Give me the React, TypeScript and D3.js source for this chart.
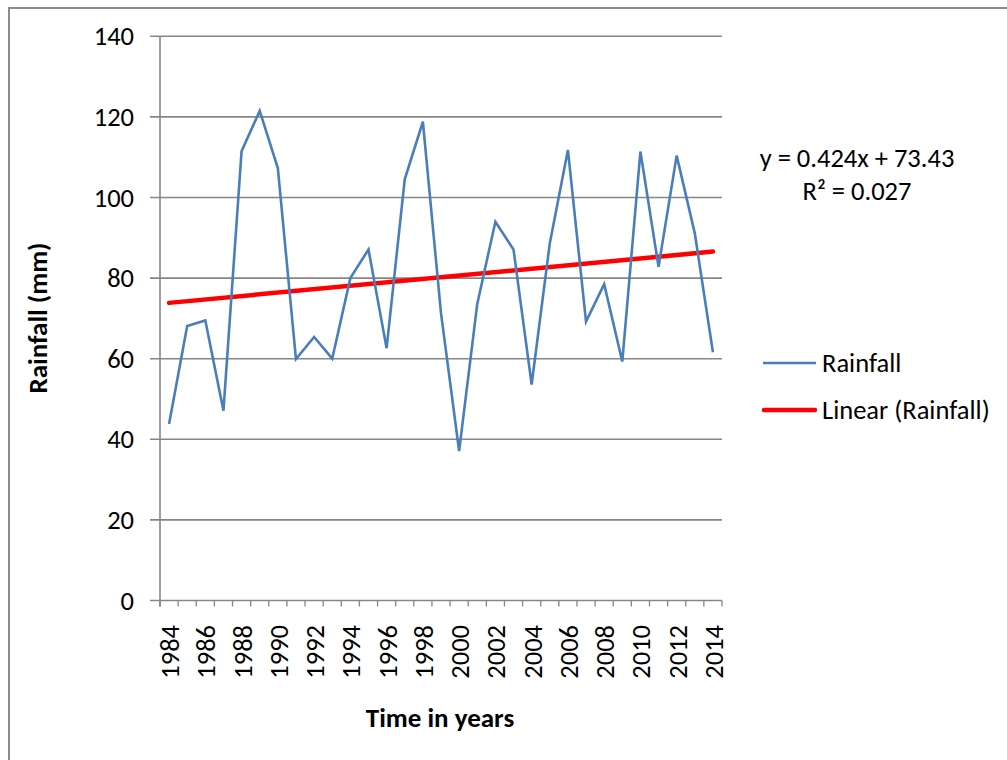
import React from "react";
import * as d3 from "d3";

// Annual rainfall series, 1984–2014
const years: number[] = [
  1984, 1985, 1986, 1987, 1988, 1989, 1990, 1991, 1992, 1993, 1994,
  1995, 1996, 1997, 1998, 1999, 2000, 2001, 2002, 2003, 2004, 2005,
  2006, 2007, 2008, 2009, 2010, 2011, 2012, 2013, 2014,
];
const rainfall: number[] = [
  43.8, 68.1, 69.5, 47.1, 111.5, 121.5, 107.3, 59.9, 65.4, 60.0, 80.0,
  87.1, 62.6, 104.5, 118.8, 71.3, 37.1, 73.6, 94.0, 87.1, 53.6, 88.6,
  111.8, 69.2, 78.5, 59.3, 111.4, 82.8, 110.4, 91.1, 61.6,
];
const yTicks: number[] = [0, 20, 40, 60, 80, 100, 120, 140];
const xTickLabels: number[] = years.filter((_, i) => i % 2 === 0);

// Linear trendline coefficients (x = 1..n)
const trendSlope = 0.424;
const trendIntercept = 73.43;
const equationText = "y = 0.424x + 73.43";
const r2Value = "0.027";

const seriesName = "Rainfall";
const trendName = "Linear (Rainfall)";

const FONT = "Carlito, Calibri, Lato, 'Open Sans', sans-serif";
const GRID = "#868686";
const BLUE = "#4a7ebb";
const RED = "#ff0000";
const FS = 26.5;
const TITLE_FS = 27;

export default function App() {
  const left = 160;
  const right = 722;
  const top = 36.3;
  const bottom = 600.5;

  const x = d3
    .scaleBand<number>()
    .domain(years)
    .range([left, right])
    .paddingInner(0)
    .paddingOuter(0);
  const cx = (yr: number) => (x(yr) as number) + x.bandwidth() / 2;
  const y = d3.scaleLinear().domain([0, 140]).range([bottom, top]);

  const line = d3
    .line<number>()
    .x((_, i) => cx(years[i]))
    .y((d) => y(d));

  const trendPts = [1, years.length].map((k) => ({
    x: cx(years[k - 1]),
    y: y(trendSlope * k + trendIntercept),
  }));

  // category boundaries for tick marks
  const boundaries = d3.range(years.length + 1).map((i) => left + i * x.bandwidth());

  return (
    <svg
      width={1007}
      height={760}
      style={{ position: "absolute", left: 0, top: 0, background: "#fff" }}
      fontFamily={FONT}
    >
      {/* chart frame */}
      <rect x={9} y={8} width={1100} height={900} fill="#fff" stroke="#8c8c8c" strokeWidth={2} />

      {/* horizontal gridlines with left tick stubs */}
      {yTicks.map((t) => (
        <line
          key={"g" + t}
          x1={150}
          x2={right}
          y1={y(t)}
          y2={y(t)}
          stroke={GRID}
          strokeWidth={1.6}
        />
      ))}
      {/* y axis */}
      <line x1={left} x2={left} y1={top} y2={bottom + 6} stroke={GRID} strokeWidth={1.6} />
      {/* x tick marks */}
      {boundaries.map((b, i) => (
        <line key={"xt" + i} x1={b} x2={b} y1={bottom} y2={bottom + 6} stroke={GRID} strokeWidth={1.3} />
      ))}

      {/* y tick labels */}
      {yTicks.map((t) => (
        <text
          key={"yl" + t}
          x={134}
          y={y(t)}
          textAnchor="end"
          dominantBaseline="central"
          fontSize={FS}
          fill="#000"
        >
          {t}
        </text>
      ))}

      {/* x tick labels */}
      {xTickLabels.map((yr) => (
        <text
          key={"xl" + yr}
          transform={`translate(${cx(yr) + 1},${625}) rotate(-90)`}
          textAnchor="end"
          dominantBaseline="central"
          fontSize={FS}
          fill="#000"
        >
          {yr}
        </text>
      ))}

      {/* trendline */}
      <line
        x1={trendPts[0].x}
        y1={trendPts[0].y}
        x2={trendPts[1].x}
        y2={trendPts[1].y}
        stroke={RED}
        strokeWidth={4.5}
        strokeLinecap="round"
      />

      {/* rainfall series */}
      <path d={line(rainfall) ?? ""} fill="none" stroke={BLUE} strokeWidth={2.6} strokeLinejoin="miter" />

      {/* axis titles */}
      <text
        transform={`translate(37,${318}) rotate(-90)`}
        textAnchor="middle"
        dominantBaseline="central"
        fontSize={TITLE_FS}
        fontWeight="bold"
      >
        Rainfall (mm)
      </text>
      <text x={440} y={717} textAnchor="middle" dominantBaseline="central" fontSize={TITLE_FS} fontWeight="bold">
        Time in years
      </text>

      {/* trendline equation */}
      <text x={857} y={158} textAnchor="middle" dominantBaseline="central" fontSize={FS}>
        {equationText}
      </text>
      <text x={857} y={191} textAnchor="middle" dominantBaseline="central" fontSize={FS}>
        R² = {r2Value}
      </text>

      {/* legend */}
      <line x1={763} x2={816} y1={363} y2={363} stroke={BLUE} strokeWidth={2.6} />
      <text x={822} y={363} dominantBaseline="central" fontSize={FS}>
        {seriesName}
      </text>
      <line x1={764} x2={815} y1={410} y2={410} stroke={RED} strokeWidth={4.5} strokeLinecap="round" />
      <text x={822} y={410} dominantBaseline="central" fontSize={FS}>
        {trendName}
      </text>
    </svg>
  );
}
